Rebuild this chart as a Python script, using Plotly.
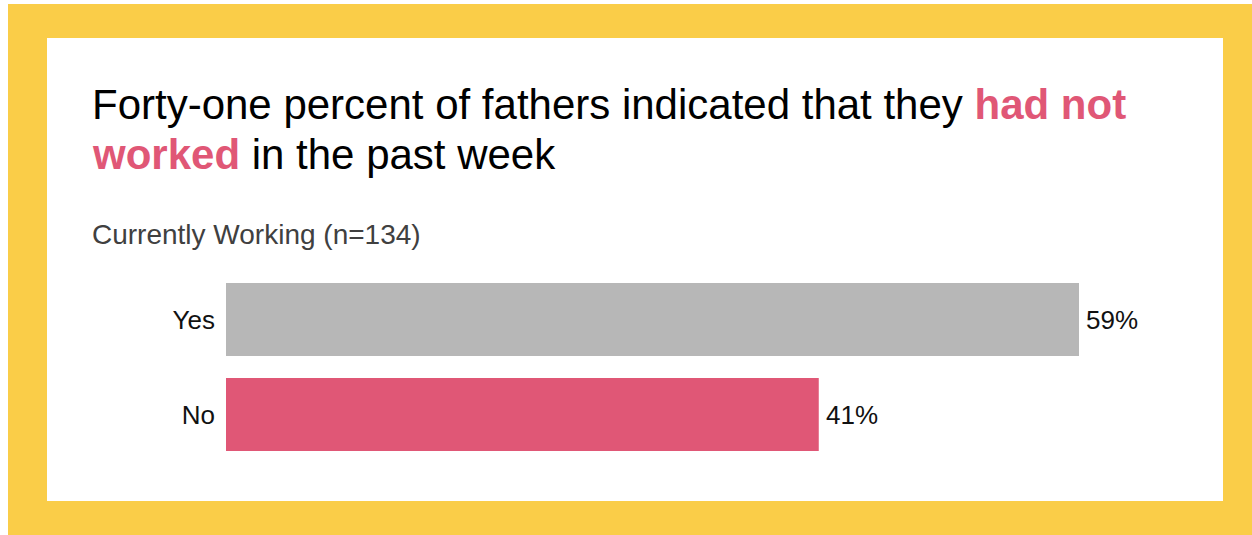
import plotly.graph_objects as go

# Survey result: currently working (n=134)
categories = ["No", "Yes"]
percents = [41, 59]
bar_colors = ["#E05776", "#B7B7B7"]
highlight = "#E05776"

title_line1 = ("Forty-one percent of fathers indicated that they "
               f"<b><span style='color:{highlight}'>had not</span></b>")
title_line2 = (f"<b><span style='color:{highlight}'>worked</span></b>"
               " in the past week")
subtitle = "Currently Working (n=134)"

W, H = 1252, 535
FONT = "Liberation Sans, Arial, sans-serif"

# plot-area placement in pixels
x0_px, x59_px, xr_px = 226, 1079, 1223
px_per_unit = (x59_px - x0_px) / 59
x_max = (xr_px - x0_px) / px_per_unit
y_top_px, y_bot_px = 272, 462

fig = go.Figure(
    go.Bar(
        y=categories,
        x=percents,
        orientation="h",
        marker=dict(color=bar_colors, line=dict(width=0)),
        hoverinfo="skip",
    )
)

# value labels just past the end of each bar
for cat, val in zip(categories, percents):
    fig.add_annotation(
        x=val, y=cat, xref="x", yref="y",
        text=f"{val}%", showarrow=False,
        xanchor="left", yanchor="middle", xshift=5,
        font=dict(family=FONT, size=26, color="#111111"),
    )

# yellow frame with white card
fig.add_shape(type="rect", xref="paper", yref="paper",
              x0=8 / W, x1=1, y0=0, y1=1 - 4 / H,
              fillcolor="#FACD48", line=dict(width=0), layer="below")
fig.add_shape(type="rect", xref="paper", yref="paper",
              x0=47 / W, x1=1223 / W, y0=1 - 501 / H, y1=1 - 38 / H,
              fillcolor="#FFFFFF", line=dict(width=0), layer="below")

# two-line headline, each line placed on its own
for text, y_mid in ((title_line1, 104), (title_line2, 154)):
    fig.add_annotation(
        xref="paper", yref="paper", x=90 / W, y=1 - y_mid / H,
        xanchor="left", yanchor="middle", align="left",
        text=text, showarrow=False,
        font=dict(family=FONT, size=42, color="#000000"),
    )
fig.add_annotation(
    xref="paper", yref="paper", x=90 / W, y=1 - 234 / H,
    xanchor="left", yanchor="middle", align="left",
    text=subtitle, showarrow=False,
    font=dict(family=FONT, size=28, color="#404040"),
)

fig.update_layout(
    width=W, height=H,
    margin=dict(l=0, r=0, t=0, b=0),
    paper_bgcolor="#FFFFFF",
    plot_bgcolor="rgba(0,0,0,0)",
    bargap=1 - 73 / 95,
    showlegend=False,
    xaxis=dict(
        domain=[x0_px / W, xr_px / W],
        range=[0, x_max],
        visible=False,
        fixedrange=True,
    ),
    yaxis=dict(
        domain=[1 - y_bot_px / H, 1 - y_top_px / H],
        range=[-0.5, 1.5],
        showgrid=False, zeroline=False, showline=False,
        ticks="", ticklabelstandoff=10,
        tickfont=dict(family=FONT, size=26, color="#111111"),
        fixedrange=True,
    ),
)

fig.write_html("out.html", config={"displayModeBar": False})
